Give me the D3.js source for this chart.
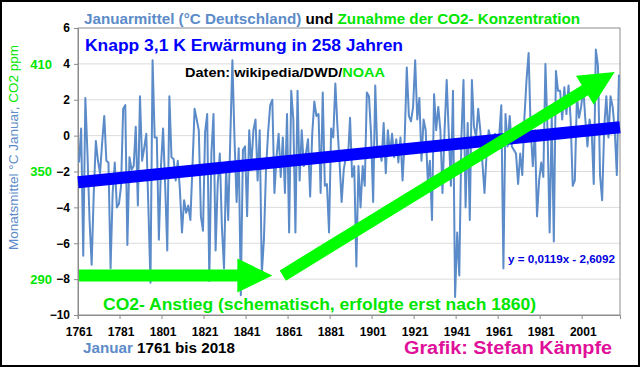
<!DOCTYPE html>
<html>
<head>
<meta charset="utf-8">
<script src="https://cdn.jsdelivr.net/npm/d3@7"></script>
<style>
  body { margin: 0; background: #fff; }
  svg { display: block; font-family: "Liberation Sans", Arial, sans-serif; }
  .axis path, .axis line { stroke: #8c8c8c; }
  .axis text { font-family: "Liberation Sans Narrow", "Liberation Sans", Arial, sans-serif; font-weight: bold; fill: #000; }
</style>
</head>
<body>
<script>
// January mean temperature Germany (°C), 1761 .. 2018
var januarTemp = [
  -1.5, 0.4, -6.7, 2.1, -1.0, -4.7, -7.2, -3.2, -0.3, -1.4,   // 1761-1770
  -2.1, -0.4, 1.1, -1.4, -1.5, -7.4, -3.2, -1.5, -4.0, -3.8,  // 1771-1780
  -2.8, 1.5, 1.7, -6.1, -1.2, -1.9, -1.7, 0.5, -3.9, 2.2,     // 1781-1790
  -1.4, -0.7, 0.1, -4.0, -8.2, 4.2, -0.1, -0.1, -5.8, -1.7,   // 1791-1800
  0.4, -2.8, -6.4, 2.2, -1.2, -1.3, -2.5, -1.4, -3.0, -5.4,   // 1801-1810
  -3.6, -4.3, -3.9, -4.7, -1.7, 1.5, 0.9, 0.3, -4.5, -5.3,    // 1811-1820
  0.2, 1.2, -8.1, -1.0, 1.2, -6.4, -2.7, -1.0, -5.1, -7.4,    // 1821-1830
  -1.7, -4.7, -0.1, 4.2, -0.2, -3.7, -0.7, -8.9, -0.8, -0.6,  // 1831-1840
  -4.5, 0.3, -1.7, 0.3, 0.9, -2.5, 0.3, -7.7, -5.8, -1.9,     // 1841-1850
  0.2, 1.7, 2.0, -3.2, -1.2, 0.1, -2.3, -0.1, -3.2, 1.2,      // 1851-1860
  -5.4, 2.5, 0.9, -5.4, 2.5, -2.5, 0.3, -1.7, -1.0, -0.2,     // 1861-1870
  -3.4, 0.1, 1.9, 1.1, 1.2, -3.2, 2.4, -2.8, -2.7, -5.4,      // 1871-1880
  0.4, -0.1, 2.9, 0.5, -1.5, -3.7, -1.9, -1.2, -1.3, 1.0,     // 1881-1890
  -2.3, -1.7, -7.3, -1.7, -4.0, -1.7, -2.8, 2.4, 2.2, 0.1,    // 1891-1900
  -3.7, 2.8, -1.0, -0.6, -1.4, 0.7, -2.1, 0.3, -1.0, 0.1,     // 1901-1910
  -1.2, -0.2, -1.5, -0.1, -2.5, -0.2, 3.8, 1.1, 0.8, 1.6,     // 1911-1920
  4.2, 0.9, 2.1, -1.4, 0.9, 0.3, -2.5, -1.4, -4.7, 2.3,       // 1921-1930
  0.3, 1.6, 0.3, -3.2, 0.3, 3.1, 0.1, -2.8, 2.5, -9.0,        // 1931-1940
  -5.4, -7.8, -0.1, 3.1, -4.0, 0.7, -4.7, 3.1, 0.5, -0.1,     // 1941-1950
  1.5, 0.3, -1.5, -3.2, -1.0, 0.3, -0.2, -0.6, 0.1, -0.4,     // 1951-1960
  0.0, 1.7, -7.4, 1.2, -0.6, 1.1, -0.6, -0.8, -1.0, -2.7,     // 1961-1970
  -1.0, -2.2, 1.0, 3.1, 4.6, 0.3, -1.7, 0.3, -4.5, -2.5,      // 1971-1980
  -1.5, -2.3, 4.0, 0.3, -5.4, 1.1, -5.9, 3.6, 2.5, 2.5,       // 1981-1990
  0.9, 2.7, 1.2, 2.8, 0.9, -2.8, -2.5, 2.2, 1.0, 1.6,         // 1991-2000
  2.7, 0.9, -0.6, 0.9, 0.3, -2.7, 4.8, 3.9, -2.2, -3.6,       // 2001-2010
  0.5, 2.2, -0.1, 2.2, 1.6, 0.3, -2.2, 3.4                    // 2011-2018
];
var years = d3.range(1761, 2019);

// axis ticks
var yearTicks = [1761, 1781, 1801, 1821, 1841, 1861, 1881, 1901, 1921, 1941, 1961, 1981, 2001];
var tempTicks = [-10, -8, -6, -4, -2, 0, 2, 4, 6];
var co2Ticks = [290, 350, 410];

// linear trend as printed on the chart (x = 1 .. 258)
var trendSlope = 0.0119;
var trendIntercept = -2.6092;

// schematic CO2 arrows: [year, ppm]
var co2Before = [[1761, 292], [1853, 292]];
var co2After = [[1858, 292], [2016, 405.5]];

var svgWidth = 640, svgHeight = 367;
var margin = { top: 28, right: 20, bottom: 52, left: 78 };
var width = svgWidth - margin.left - margin.right;
var height = svgHeight - margin.top - margin.bottom;

var svg = d3.select("body").append("svg")
  .attr("width", svgWidth)
  .attr("height", svgHeight);

// outer frame
svg.append("rect")
  .attr("x", 1).attr("y", 1)
  .attr("width", svgWidth - 2).attr("height", svgHeight - 2)
  .attr("fill", "#fff").attr("stroke", "#000").attr("stroke-width", 2);

var chartGroup = svg.append("g")
  .attr("transform", `translate(${margin.left}, ${margin.top})`);

var xScale = d3.scaleBand().domain(years).range([0, width]);
var bw = xScale.bandwidth();
var xMid = d => xScale(d) + bw / 2;
var yScale = d3.scaleLinear().domain([-10, 6]).range([height, 0]);
var co2Scale = d3.scaleLinear().domain([270, 430]).range([height, 0]);

// grid lines
chartGroup.selectAll(".grid")
  .data(tempTicks.filter(t => t > -10 && t < 6))
  .enter().append("line")
  .attr("x1", 0).attr("x2", width)
  .attr("y1", d => yScale(d)).attr("y2", d => yScale(d))
  .attr("stroke", "#dcdcdc").attr("stroke-width", 1);

// plot frame
chartGroup.append("rect")
  .attr("width", width).attr("height", height)
  .attr("fill", "none").attr("stroke", "#8c8c8c");

// axes
var leftAxis = d3.axisLeft(yScale).tickValues(tempTicks).tickSize(4).tickPadding(4);
chartGroup.append("g").attr("class", "axis").call(leftAxis)
  .selectAll("text").style("font-size", "12px");

var bottomAxis = d3.axisBottom(xScale).tickValues(yearTicks).tickSize(4).tickPadding(8);
var xAxisG = chartGroup.append("g").attr("class", "axis")
  .attr("transform", `translate(0, ${height})`)
  .call(bottomAxis);
xAxisG.selectAll(".tick").attr("transform", d => `translate(${xScale(d)},0)`);
xAxisG.selectAll("text").style("font-size", "12px").attr("x", bw / 2);

// temperature line
var line = d3.line()
  .x((d, i) => xMid(years[i]))
  .y(d => yScale(d));
chartGroup.append("path")
  .datum(januarTemp)
  .attr("d", line)
  .attr("fill", "none")
  .attr("stroke", "#5b8bc8")
  .attr("stroke-width", 2)
  .attr("stroke-linejoin", "round");

// trend line (thick blue)
var trendPts = [0.5, years.length + 0.5];
chartGroup.append("line")
  .attr("x1", 0).attr("x2", width)
  .attr("y1", yScale(trendSlope * trendPts[0] + trendIntercept))
  .attr("y2", yScale(trendSlope * trendPts[1] + trendIntercept))
  .attr("stroke", "#0000ff").attr("stroke-width", 12);

// arrows
function arrowPath(p0, p1, shaft, headW, headL) {
  var dx = p1[0] - p0[0], dy = p1[1] - p0[1];
  var len = Math.sqrt(dx * dx + dy * dy);
  var ux = dx / len, uy = dy / len, nx = -uy, ny = ux;
  var bx = p1[0] - ux * headL, by = p1[1] - uy * headL;
  var pts = [
    [p0[0] + nx * shaft / 2, p0[1] + ny * shaft / 2],
    [bx + nx * shaft / 2, by + ny * shaft / 2],
    [bx + nx * headW / 2, by + ny * headW / 2],
    p1,
    [bx - nx * headW / 2, by - ny * headW / 2],
    [bx - nx * shaft / 2, by - ny * shaft / 2],
    [p0[0] - nx * shaft / 2, p0[1] - ny * shaft / 2]
  ];
  return "M" + pts.map(p => p.join(",")).join("L") + "Z";
}
[co2Before, co2After].forEach(function(arr) {
  var p0 = [xMid(arr[0][0]), co2Scale(arr[0][1])];
  var p1 = [xMid(arr[1][0]), co2Scale(arr[1][1])];
  chartGroup.append("path")
    .attr("d", arrowPath(p0, p1, 12, 34, 35))
    .attr("fill", "#00ff00");
});

// CO2 ppm labels
svg.selectAll(".co2lab")
  .data(co2Ticks)
  .enter().append("text")
  .attr("x", 52)
  .attr("y", d => margin.top + co2Scale(d))
  .attr("dy", "0.36em")
  .attr("text-anchor", "end")
  .attr("font-weight", "bold").attr("font-size", "13px")
  .attr("fill", "#00e600")
  .text(d => d);

// y axis title
var yTitle = svg.append("text")
  .attr("transform", "translate(17.5, 147.5) rotate(-90)")
  .attr("text-anchor", "middle")
  .attr("font-size", "13px")
  .attr("textLength", 205).attr("lengthAdjust", "spacingAndGlyphs");
yTitle.append("tspan").attr("fill", "#5b8bc8").text("Monatsmittel °C Januar, ");
yTitle.append("tspan").attr("fill", "#00e600").text("CO2 ppm");

// chart title
var title = svg.append("text")
  .attr("x", 84).attr("y", 24)
  .attr("font-family", "'Liberation Sans Narrow', 'Liberation Sans', Arial, sans-serif")
  .attr("font-weight", "bold").attr("font-size", "15px")
  .attr("textLength", 496).attr("lengthAdjust", "spacingAndGlyphs");
title.append("tspan").attr("fill", "#5b8bc8").text("Januarmittel (°C Deutschland) ");
title.append("tspan").attr("fill", "#000").text("und ");
title.append("tspan").attr("fill", "#00e600").text("Zunahme der CO2- Konzentration");

// annotations
svg.append("text")
  .attr("x", 85).attr("y", 51)
  .attr("font-weight", "bold").attr("font-size", "16px")
  .attr("fill", "#0000ff")
  .attr("textLength", 318).attr("lengthAdjust", "spacingAndGlyphs")
  .text("Knapp 3,1 K Erwärmung in 258 Jahren");

var daten = svg.append("text")
  .attr("x", 185).attr("y", 77)
  .attr("font-weight", "bold").attr("font-size", "13px")
  .attr("textLength", 200).attr("lengthAdjust", "spacingAndGlyphs");
daten.append("tspan").attr("fill", "#000").text("Daten: wikipedia/DWD/");
daten.append("tspan").attr("fill", "#00e600").text("NOAA");

svg.append("text")
  .attr("x", 508).attr("y", 263)
  .attr("font-weight", "bold").attr("font-size", "10px")
  .attr("fill", "#0000e0")
  .attr("textLength", 107).attr("lengthAdjust", "spacingAndGlyphs")
  .text("y = 0,0119x - 2,6092");

svg.append("text")
  .attr("x", 103).attr("y", 310)
  .attr("font-weight", "bold").attr("font-size", "16px")
  .attr("fill", "#00e600")
  .attr("textLength", 433).attr("lengthAdjust", "spacingAndGlyphs")
  .text("CO2- Anstieg (schematisch, erfolgte erst nach 1860)");

// footer
var footer = svg.append("text")
  .attr("x", 83).attr("y", 353)
  .attr("font-weight", "bold").attr("font-size", "14px")
  .attr("textLength", 152).attr("lengthAdjust", "spacingAndGlyphs");
footer.append("tspan").attr("fill", "#5b8bc8").text("Januar ");
footer.append("tspan").attr("fill", "#000").text("1761 bis 2018");

svg.append("text")
  .attr("x", 404).attr("y", 354)
  .attr("font-weight", "bold").attr("font-size", "18px")
  .attr("fill", "#e0109a")
  .attr("textLength", 208).attr("lengthAdjust", "spacingAndGlyphs")
  .text("Grafik: Stefan Kämpfe");
</script>
</body>
</html>
